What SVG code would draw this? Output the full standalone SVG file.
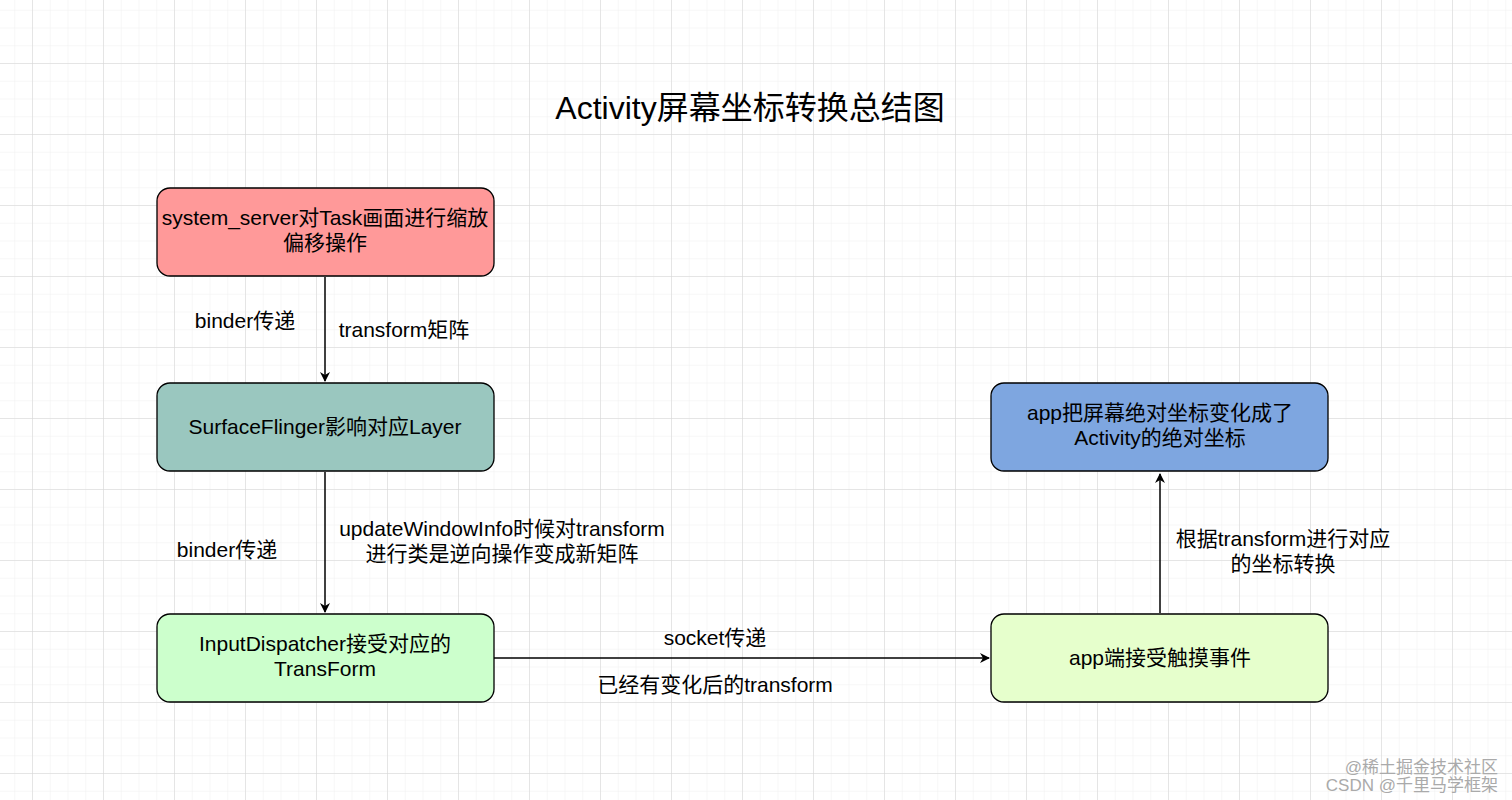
<svg xmlns="http://www.w3.org/2000/svg" width="1512" height="800" viewBox="0 0 1512 800">
<defs>
<pattern id="minor" x="-39" y="-8" width="17.75" height="17.75" patternUnits="userSpaceOnUse"><path d="M0 0H17.75M0 0V17.75" fill="none" stroke="#efefef" stroke-width="1"/></pattern>
<pattern id="major" x="-39" y="-8" width="71" height="71" patternUnits="userSpaceOnUse"><path d="M0 0H71M0 0V71" fill="none" stroke="#d4d4d4" stroke-width="1"/></pattern>
<marker id="arr" viewBox="0 0 10 10" refX="9" refY="5" markerWidth="10" markerHeight="10" markerUnits="userSpaceOnUse" orient="auto"><path d="M0 0L10 5L0 10L3 5z" fill="#000"/></marker>
</defs>
<style>
text{font-family:"Liberation Sans","Noto Sans CJK SC",sans-serif;font-size:21px;fill:#000;text-anchor:middle}
.n{stroke:#000;stroke-width:1.3}
.c{stroke:#000;stroke-width:1.5;fill:none;marker-end:url(#arr)}
.w{font-size:17px;fill:#aaa;text-anchor:end}
</style>
<rect width="1512" height="800" fill="#fff"/>
<rect width="1512" height="800" fill="url(#minor)"/>
<rect width="1512" height="800" fill="url(#major)"/>
<text x="750" y="119" style="font-size:32px">Activity屏幕坐标转换总结图</text>
<g id="connectors">
<path class="c" d="M325 277V381"/>
<path class="c" d="M325 472V612"/>
<path class="c" d="M494 658H989"/>
<path class="c" d="M1160 613V474"/>
<text x="245" y="328">binder传递</text>
<text x="404" y="337">transform矩阵</text>
<text x="227" y="557">binder传递</text>
<text x="502" y="536">updateWindowInfo时候对transform</text>
<text x="502" y="561">进行类是逆向操作变成新矩阵</text>
<text x="715" y="645">socket传递</text>
<text x="715" y="692">已经有变化后的transform</text>
<text x="1283" y="546">根据transform进行对应</text>
<text x="1283" y="571">的坐标转换</text>
</g>
<g id="node1"><rect class="n" x="157" y="188" width="337" height="88" rx="13" fill="#ff9999"/>
<text x="325" y="225">system_server对Task画面进行缩放</text><text x="325" y="250">偏移操作</text></g>
<g id="node2"><rect class="n" x="157" y="383" width="337" height="88" rx="13" fill="#9ac7bf"/>
<text x="325" y="434">SurfaceFlinger影响对应Layer</text></g>
<g id="node3"><rect class="n" x="157" y="614" width="337" height="88" rx="13" fill="#ccffcc"/>
<text x="325" y="651">InputDispatcher接受对应的</text><text x="325" y="676">TransForm</text></g>
<g id="node4"><rect class="n" x="991" y="383" width="337" height="88" rx="13" fill="#7ea6e0"/>
<text x="1160" y="420">app把屏幕绝对坐标变化成了</text><text x="1160" y="445">Activity的绝对坐标</text></g>
<g id="node5"><rect class="n" x="991" y="614" width="337" height="88" rx="13" fill="#e6ffcc"/>
<text x="1160" y="665">app端接受触摸事件</text></g>
<text class="w" x="1498" y="773">@稀土掘金技术社区</text>
<text class="w" x="1498" y="791">CSDN @千里马学框架</text>
</svg>
